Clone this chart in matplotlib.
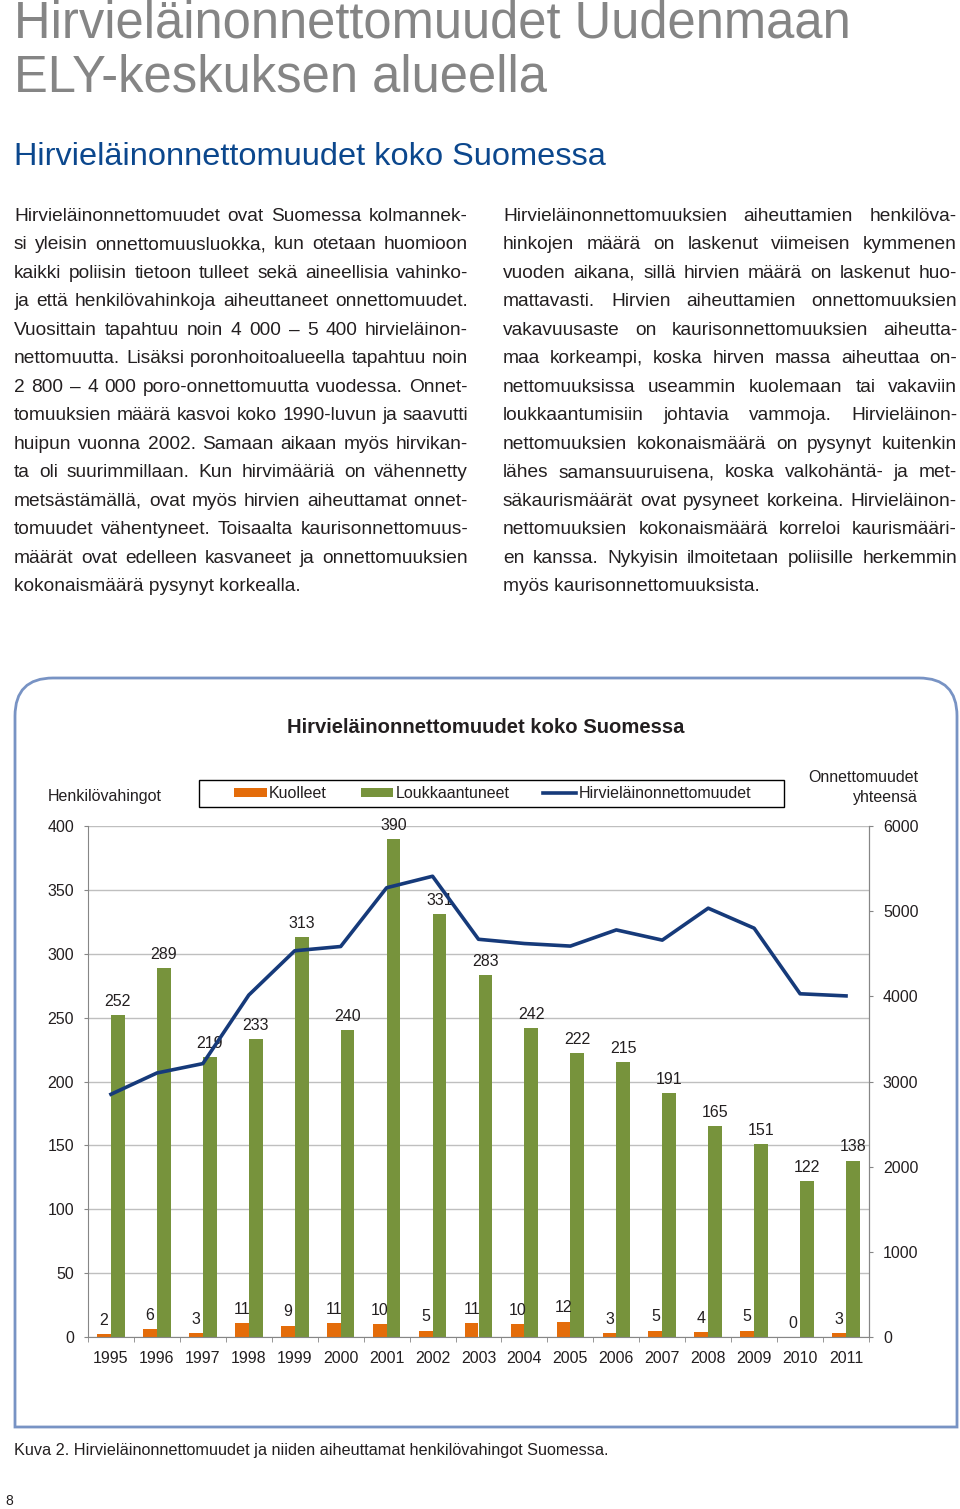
import matplotlib
matplotlib.use("Agg")
import matplotlib.pyplot as plt
import numpy as np
from matplotlib.font_manager import FontProperties
from matplotlib.path import Path
from matplotlib.patches import PathPatch, Rectangle

plt.rcParams["font.family"] = ["Liberation Sans", "DejaVu Sans"]

# ── data ─────────────────────────────────────────────
years = [str(y) for y in range(1995, 2012)]
kuolleet = [2, 6, 3, 11, 9, 11, 10, 5, 11, 10, 12, 3, 5, 4, 5, 0, 3]
loukkaantuneet = [252, 289, 219, 233, 313, 240, 390, 331, 283, 242,
                  222, 215, 191, 165, 151, 122, 138]
onnettomuudet = [2850, 3100, 3210, 4015, 4535, 4585, 5275, 5410, 4670,
                 4620, 4590, 4780, 4660, 5035, 4800, 4030, 4005]
left_ticks = list(range(0, 401, 50))
right_ticks = list(range(0, 6001, 1000))
legend_labels = ["Kuolleet", "Loukkaantuneet", "Hirvieläinonnettomuudet"]

left_col = [
    "Hirvieläinonnettomuudet ovat Suomessa kolmannek-",
    "si yleisin onnettomuusluokka, kun otetaan huomioon",
    "kaikki poliisin tietoon tulleet sekä aineellisia vahinko-",
    "ja että henkilövahinkoja aiheuttaneet onnettomuudet.",
    "Vuosittain tapahtuu noin 4 000 – 5 400 hirvieläinon-",
    "nettomuutta. Lisäksi poronhoitoalueella tapahtuu noin",
    "2 800 – 4 000 poro-onnettomuutta vuodessa. Onnet-",
    "tomuuksien määrä kasvoi koko 1990-luvun ja saavutti",
    "huipun vuonna 2002. Samaan aikaan myös hirvikan-",
    "ta oli suurimmillaan. Kun hirvimääriä on vähennetty",
    "metsästämällä, ovat myös hirvien aiheuttamat onnet-",
    "tomuudet vähentyneet. Toisaalta kaurisonnettomuus-",
    "määrät ovat edelleen kasvaneet ja onnettomuuksien",
    "kokonaismäärä pysynyt korkealla.",
]
right_col = [
    "Hirvieläinonnettomuuksien aiheuttamien henkilöva-",
    "hinkojen määrä on laskenut viimeisen kymmenen",
    "vuoden aikana, sillä hirvien määrä on laskenut huo-",
    "mattavasti. Hirvien aiheuttamien onnettomuuksien",
    "vakavuusaste on kaurisonnettomuuksien aiheutta-",
    "maa korkeampi, koska hirven massa aiheuttaa on-",
    "nettomuuksissa useammin kuolemaan tai vakaviin",
    "loukkaantumisiin johtavia vammoja. Hirvieläinon-",
    "nettomuuksien kokonaismäärä on pysynyt kuitenkin",
    "lähes samansuuruisena, koska valkohäntä- ja met-",
    "säkaurismäärät ovat pysyneet korkeina. Hirvieläinon-",
    "nettomuuksien kokonaismäärä korreloi kaurismääri-",
    "en kanssa. Nykyisin ilmoitetaan poliisille herkemmin",
    "myös kaurisonnettomuuksista.",
]

# ── style ────────────────────────────────────────────
W, H = 960, 1509
DPI = 100
TEXT = "#231f20"
GRAY_TITLE = "#858585"
BLUE_TITLE = "#0b478d"
ORANGE = "#e46c0a"
GREEN = "#77933c"
NAVY = "#163a7a"
GRID = "#bfbfbf"
SPINE = "#868686"
BOX = "#7893c4"
FS = 11.5

fig = plt.figure(figsize=(W / DPI, H / DPI), dpi=DPI)
fig.patch.set_facecolor("white")

# page layer in pixel coordinates
page = fig.add_axes([0, 0, 1, 1])
page.set_xlim(0, W)
page.set_ylim(H, 0)
page.axis("off")

page.text(14, 37, "Hirvieläinonnettomuudet Uudenmaan", fontsize=36.5,
          color=GRAY_TITLE, va="baseline")
page.text(14, 92, "ELY-keskuksen alueella", fontsize=36.5,
          color=GRAY_TITLE, va="baseline")
page.text(14, 165, "Hirvieläinonnettomuudet koko Suomessa", fontsize=23.4,
          color=BLUE_TITLE, va="baseline")

renderer = fig.canvas.get_renderer()
body_prop = FontProperties(family=["Liberation Sans"], size=13.75)


def justify(lines, x0, x1, y0, step):
    for i, line in enumerate(lines):
        y = y0 + i * step
        words = line.split(" ")
        if i == len(lines) - 1 or len(words) == 1:
            page.text(x0, y, line, fontproperties=body_prop, color=TEXT,
                      va="baseline")
            continue
        widths = [renderer.get_text_width_height_descent(w, body_prop, ismath=False)[0]
                  for w in words]
        gap = (x1 - x0 - sum(widths)) / (len(words) - 1)
        x = x0
        for w, wd in zip(words, widths):
            page.text(x, y, w, fontproperties=body_prop, color=TEXT,
                      va="baseline")
            x += wd + gap


justify(left_col, 14, 468, 221, 28.46)
justify(right_col, 503, 957, 221, 28.46)

# chart frame: rounded top corners, square bottom
r = 38
bx0, bx1, by0, by1 = 15, 957, 678, 1427
verts = [(bx0, by1), (bx0, by0 + r), (bx0, by0), (bx0 + r, by0),
         (bx1 - r, by0), (bx1, by0), (bx1, by0 + r), (bx1, by1), (bx0, by1)]
codes = [Path.MOVETO, Path.LINETO, Path.CURVE3, Path.CURVE3, Path.LINETO,
         Path.CURVE3, Path.CURVE3, Path.LINETO, Path.CLOSEPOLY]
page.add_patch(PathPatch(Path(verts, codes), facecolor="none",
                         edgecolor=BOX, lw=2))

page.text(486, 733, "Hirvieläinonnettomuudet koko Suomessa", fontsize=14.6,
          fontweight="bold", color=TEXT, ha="center", va="baseline")
page.text(48, 801, "Henkilövahingot", fontsize=FS, color=TEXT, va="baseline")
page.text(918, 782, "Onnettomuudet", fontsize=FS, color=TEXT, ha="right",
          va="baseline")
page.text(918, 802, "yhteensä", fontsize=FS, color=TEXT, ha="right",
          va="baseline")
page.add_patch(Rectangle((199, 780), 585, 27, facecolor="none",
                         edgecolor="black", lw=1))

page.text(14, 1455, "Kuva 2. Hirvieläinonnettomuudet ja niiden aiheuttamat "
          "henkilövahingot Suomessa.", fontsize=11.7, color=TEXT, va="baseline")
page.text(5, 1505, "8", fontsize=10, color=TEXT, va="baseline")

# ── chart ────────────────────────────────────────────
ax = fig.add_axes([88 / W, 1 - 1337 / H, (869 - 88) / W, (1337 - 826) / H])
ax.set_facecolor("none")
x = np.arange(len(years))
bw = 0.3
bars_k = ax.bar(x - bw / 2, kuolleet, bw, color=ORANGE, zorder=2)
bars_g = ax.bar(x + bw / 2, loukkaantuneet, bw, color=GREEN, zorder=2)
ax.bar_label(bars_k, padding=4.5, fontsize=FS, color=TEXT)
ax.bar_label(bars_g, padding=4.5, fontsize=FS, color=TEXT)

ax.set_xlim(-0.5, len(years) - 0.5)
ax.set_ylim(0, 400)
ax.set_yticks(left_ticks)
ax.set_xticks(x)
ax.set_xticklabels(years)
ax.set_xticks(np.arange(len(years) + 1) - 0.5, minor=True)
ax.yaxis.grid(True, color=GRID, lw=1)
ax.set_axisbelow(True)
ax.tick_params(axis="y", direction="out", length=3, pad=7, labelsize=FS,
               color=SPINE, labelcolor=TEXT)
ax.tick_params(axis="x", which="major", length=0, pad=10, labelsize=FS,
               labelcolor=TEXT)
ax.tick_params(axis="x", which="minor", direction="out", length=3.6,
               color=SPINE)
for side in ["left", "bottom", "right"]:
    ax.spines[side].set_color(SPINE)
ax.spines["top"].set_visible(False)

ax2 = ax.twinx()
line, = ax2.plot(x, onnettomuudet, color=NAVY, lw=2.6,
                 solid_joinstyle="round", zorder=3)
ax2.set_ylim(0, 6000)
ax2.set_yticks(right_ticks)
ax2.tick_params(axis="y", direction="out", length=3, pad=7, labelsize=FS,
                color=SPINE, labelcolor=TEXT)
for side in ["top", "left", "bottom"]:
    ax2.spines[side].set_visible(False)
ax2.spines["right"].set_color(SPINE)

fig.legend([bars_k, bars_g, line], legend_labels, loc="center left",
           bbox_to_anchor=(234 / W, 1 - 794 / H), ncol=3, frameon=False,
           fontsize=FS, handlelength=2.05, handletextpad=0.15,
           columnspacing=2.1, borderpad=0, borderaxespad=0,
           handleheight=0.5, labelcolor=TEXT)

fig.savefig("out.png", dpi=DPI, facecolor="white")
